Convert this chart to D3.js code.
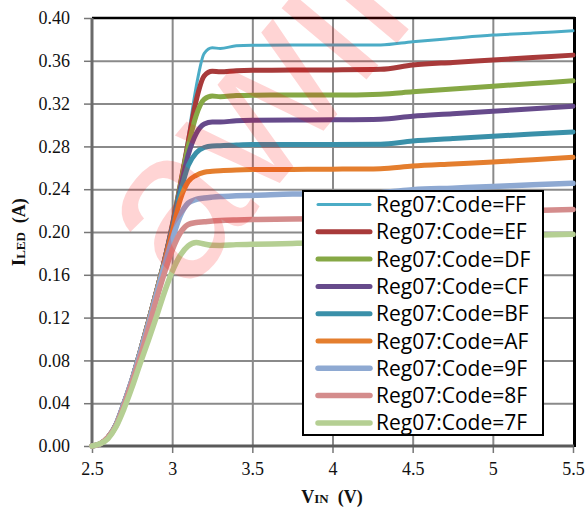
<!DOCTYPE html>
<html><head><meta charset="utf-8">
<script src="https://cdn.jsdelivr.net/npm/d3@7"></script>
<style>body{margin:0;background:#fff;overflow:hidden}</style>
</head><body>
<svg id="chart" width="588" height="511"></svg>
<script>
// ---------- data ----------
const vin = [2.5, 2.55, 2.6, 2.65, 2.7, 2.75, 2.8, 2.85, 2.9, 2.95, 3.0, 3.05, 3.1, 3.15, 3.2, 3.25, 3.3, 3.4, 3.5, 3.75, 4.0, 4.3, 4.5, 4.75, 5.0, 5.25, 5.5];
const codes = ["FF", "EF", "DF", "CF", "BF", "AF", "9F", "8F", "7F"];
const iFF = [0, 0.002, 0.008, 0.02, 0.04, 0.062, 0.088, 0.115, 0.143, 0.173, 0.207, 0.246, 0.289, 0.336, 0.367, 0.3722, 0.3715, 0.374, 0.3745, 0.3747, 0.3747, 0.3748, 0.3778, 0.381, 0.384, 0.386, 0.388];
const iEF = [0, 0.002, 0.008, 0.02, 0.04, 0.062, 0.088, 0.115, 0.143, 0.172, 0.206, 0.244, 0.284, 0.323, 0.346, 0.3503, 0.3497, 0.3508, 0.3512, 0.3513, 0.3515, 0.352, 0.356, 0.3585, 0.3607, 0.363, 0.3653];
const iDF = [0, 0.002, 0.008, 0.02, 0.04, 0.062, 0.088, 0.115, 0.143, 0.172, 0.205, 0.243, 0.28, 0.309, 0.324, 0.327, 0.3265, 0.3275, 0.3279, 0.328, 0.328, 0.3288, 0.331, 0.3337, 0.3363, 0.3388, 0.3413];
const iCF = [0, 0.002, 0.008, 0.02, 0.04, 0.062, 0.088, 0.115, 0.143, 0.172, 0.204, 0.24, 0.272, 0.292, 0.301, 0.3029, 0.3027, 0.304, 0.3044, 0.3046, 0.3048, 0.3054, 0.3082, 0.3105, 0.3129, 0.3152, 0.3176];
const iBF = [0, 0.002, 0.008, 0.02, 0.04, 0.062, 0.088, 0.115, 0.143, 0.172, 0.203, 0.236, 0.262, 0.274, 0.279, 0.2804, 0.2806, 0.2813, 0.2817, 0.2817, 0.2817, 0.282, 0.285, 0.2873, 0.2895, 0.2915, 0.2935];
const iAF = [0, 0.002, 0.008, 0.02, 0.04, 0.062, 0.088, 0.115, 0.143, 0.171, 0.2, 0.23, 0.247, 0.253, 0.2558, 0.2567, 0.2573, 0.258, 0.2583, 0.2585, 0.2587, 0.2592, 0.2617, 0.2636, 0.2654, 0.2676, 0.2698];
const i9F = [0, 0.002, 0.008, 0.02, 0.04, 0.062, 0.087, 0.113, 0.141, 0.168, 0.193, 0.215, 0.227, 0.2305, 0.2318, 0.2326, 0.2332, 0.2338, 0.2342, 0.2355, 0.236, 0.2368, 0.2395, 0.241, 0.2425, 0.2442, 0.2455];
const i8F = [0, 0.002, 0.008, 0.019, 0.038, 0.06, 0.083, 0.109, 0.136, 0.161, 0.183, 0.199, 0.207, 0.2088, 0.2095, 0.2103, 0.2108, 0.2113, 0.2116, 0.2122, 0.2126, 0.2132, 0.2155, 0.2172, 0.2188, 0.2202, 0.221];
const i7F = [0, 0.002, 0.007, 0.018, 0.035, 0.055, 0.077, 0.098, 0.12, 0.143, 0.163, 0.178, 0.187, 0.1902, 0.1888, 0.1876, 0.1875, 0.1882, 0.1885, 0.1893, 0.19, 0.1905, 0.1925, 0.1942, 0.1957, 0.197, 0.1978];
const seriesValues = [iFF, iEF, iDF, iCF, iBF, iAF, i9F, i8F, i7F];
const xTicks = [2.5, 3, 3.5, 4, 4.5, 5, 5.5];
const yTicks = [0, 0.04, 0.08, 0.12, 0.16, 0.20, 0.24, 0.28, 0.32, 0.36, 0.40];

// ---------- styles ----------
const colors = ["#4BACC6", "#A83A3A", "#86A845", "#664A8B", "#3A90A9", "#E47E2E", "#8EA9D2", "#D48C8C", "#B5CF93"];
const widths = [3, 5, 5, 5, 5, 5, 5.5, 5.5, 5.5];

const svg = d3.select("#chart");
const L = 92, R = 573, T = 18, B = 446;
const x = d3.scaleLinear().domain([2.5, 5.5]).range([L, R]);
const y = d3.scaleLinear().domain([0, 0.4]).range([B, T]);
const serif = "'Liberation Serif', 'DejaVu Serif', serif";

// grid
const gx = svg.append("g").attr("transform", `translate(0,${B})`)
  .call(d3.axisBottom(x).tickValues(xTicks.slice(1, -1)).tickSize(-(B - T)).tickFormat(""));
const gy = svg.append("g").attr("transform", `translate(${L},0)`)
  .call(d3.axisLeft(y).tickValues(yTicks.slice(1, -1)).tickSize(-(R - L)).tickFormat(""));
[gx, gy].forEach(g => {
  g.select(".domain").remove();
  g.selectAll("line").attr("stroke", "#8a8a8a").attr("stroke-width", 2);
});

// axes with ticks & labels
const ax = svg.append("g").attr("transform", `translate(0,${B})`)
  .call(d3.axisBottom(x).tickValues(xTicks).tickSize(7).tickPadding(9).tickFormat(d => String(d)));
const ay = svg.append("g").attr("transform", `translate(${L},0)`)
  .call(d3.axisLeft(y).tickValues(yTicks).tickSize(8).tickPadding(14).tickFormat(d3.format(".2f")));
[ax, ay].forEach(g => {
  g.select(".domain").remove();
  g.selectAll("line").attr("stroke", "#777").attr("stroke-width", 1.5);
  g.selectAll("text").attr("font-family", serif).attr("font-size", 18).attr("fill", "#111");
});

// frame
svg.append("line").attr("x1", L).attr("x2", R + 2).attr("y1", T).attr("y2", T).attr("stroke", "#000").attr("stroke-width", 2.5);
svg.append("line").attr("x1", R + 1.5).attr("x2", R + 1.5).attr("y1", T - 1).attr("y2", B + 1).attr("stroke", "#000").attr("stroke-width", 3);
svg.append("line").attr("x1", L).attr("x2", L).attr("y1", T).attr("y2", B + 1).attr("stroke", "#6a6a6a").attr("stroke-width", 3);
svg.append("line").attr("x1", L - 1).attr("x2", R + 1).attr("y1", B).attr("y2", B).attr("stroke", "#5a5a5a").attr("stroke-width", 3);

// lines
const line = d3.line().x((d, i) => x(vin[i])).y(d => y(d)).curve(d3.curveMonotoneX);
svg.append("g").selectAll("path").data(seriesValues).join("path")
  .attr("d", d => line(d)).attr("fill", "none")
  .attr("stroke", (d, i) => colors[i]).attr("stroke-width", (d, i) => widths[i])
  .attr("stroke-linejoin", "round").attr("stroke-linecap", "round");

// legend
const lg = svg.append("g");
lg.append("rect").attr("x", 303).attr("y", 191).attr("width", 240).attr("height", 244)
  .attr("fill", "#fff").attr("stroke", "#000").attr("stroke-width", 2);
codes.forEach((c, i) => {
  const yy = 204.5 + i * 27.3;
  lg.append("line").attr("x1", 318).attr("x2", 370).attr("y1", yy).attr("y2", yy)
    .attr("stroke", colors[i]).attr("stroke-width", widths[i]).attr("stroke-linecap", "round");
  lg.append("text").attr("x", 376).attr("y", yy).attr("dy", "0.36em")
    .attr("font-family", "'Open Sans', sans-serif").attr("font-size", 21).attr("fill", "#000")
    .text("Reg07:Code=" + c);
});

// axis titles
const xt = svg.append("text").attr("x", 332).attr("y", 503).attr("text-anchor", "middle")
  .attr("font-family", serif).attr("font-weight", "bold").attr("font-size", 18).attr("fill", "#111");
xt.append("tspan").text("V");
xt.append("tspan").attr("font-size", 13).text("IN");
xt.append("tspan").attr("xml:space", "preserve").text("  (V)");
const yt = svg.append("text").attr("transform", "translate(25,232) rotate(-90)").attr("text-anchor", "middle")
  .attr("font-family", serif).attr("font-weight", "bold").attr("font-size", 18).attr("fill", "#111");
yt.append("tspan").text("I");
yt.append("tspan").attr("font-size", 13).text("LED");
yt.append("tspan").attr("xml:space", "preserve").text("  (A)");

// watermark
svg.append("text").attr("transform", "translate(185,296) rotate(-50)")
  .attr("font-family", "'Liberation Sans', sans-serif").attr("font-size", 210)
  .attr("fill", "#ff0000").attr("fill-opacity", 0.17).text("awinic");
</script>
</body></html>
